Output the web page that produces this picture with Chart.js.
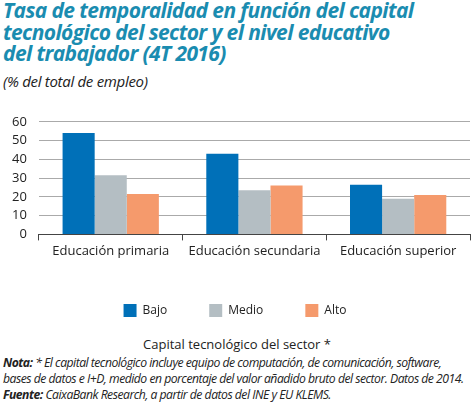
<!DOCTYPE html>
<html><head><meta charset="utf-8">
<script src="https://cdn.jsdelivr.net/npm/chart.js@4"></script>
<style>
body{margin:0;width:474px;height:410px;background:#fff;font-family:"Open Sans",sans-serif;position:relative;overflow:hidden}
#t{position:absolute;left:3px;top:0px;font-size:21px;line-height:21.5px;font-weight:bold;font-style:italic;color:#1a8cb0;letter-spacing:-0.6px}
#s{position:absolute;left:3px;top:71px;font-size:15px;font-style:italic;color:#222;letter-spacing:-0.3px}
#c{position:absolute;left:0;top:102px;width:474px;height:225px}
#x{position:absolute;left:0;width:474px;top:335px;text-align:center;font-size:13px;color:#222}
#n{position:absolute;left:3px;top:355px;font-size:12.2px;line-height:16px;font-style:italic;color:#222;letter-spacing:-0.5px;white-space:nowrap}
</style></head><body>
<div id="t">Tasa de temporalidad en función del capital<br>tecnológico del sector y el nivel educativo<br>del trabajador (4T 2016)</div>
<div id="s">(% del total de empleo)</div>
<div id="c"><canvas id="cv"></canvas></div>
<div id="x">Capital tecnológico del sector *</div>
<div id="n"><b>Nota:</b> * El capital tecnológico incluye equipo de computación, de comunicación, software,<br>bases de datos e I+D, medido en porcentaje del valor añadido bruto del sector. Datos de 2014.<br><b>Fuente:</b> CaixaBank Research, a partir de datos del INE y EU KLEMS.</div>
<script>
const categories=["Educación primaria","Educación secundaria","Educación superior"];
const bajo=[54,43,26.5];
const medio=[31.5,23.5,19];
const alto=[21.5,26,21];
const yTicks=[0,10,20,30,40,50,60];
new Chart(document.getElementById('cv'),{type:'bar',
data:{labels:categories,datasets:[
{label:'Bajo',data:bajo,backgroundColor:'#0070b8'},
{label:'Medio',data:medio,backgroundColor:'#b4bec3'},
{label:'Alto',data:alto,backgroundColor:'#f59a6c'}]},
options:{responsive:true,maintainAspectRatio:false,animation:false,
layout:{padding:{left:0,right:4,top:4,bottom:0}},
categoryPercentage:0.67,barPercentage:1,
plugins:{legend:{position:'bottom',labels:{boxWidth:13,boxHeight:13,padding:42,color:'#222',font:{family:'Open Sans',size:12},generateLabels:c=>Chart.defaults.plugins.legend.labels.generateLabels(c).map(l=>Object.assign(l,{lineWidth:0}))}},tooltip:{enabled:false}},
scales:{
x:{grid:{display:true,drawOnChartArea:false,offset:true,color:'#444',tickLength:6},border:{color:'#444'},ticks:{color:'#222',font:{family:'Open Sans',size:13}}},
y:{min:0,max:60,afterBuildTicks:a=>{a.ticks=yTicks.map(v=>({value:v}))},grid:{color:'#aaa',drawTicks:false},border:{display:false},ticks:{padding:12,color:'#222',font:{family:'Open Sans',size:13}}}}}});
</script></body></html>
